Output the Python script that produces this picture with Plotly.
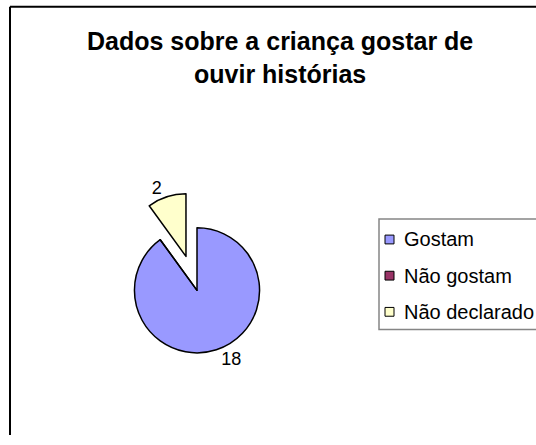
import plotly.graph_objects as go

# ---- data ----
labels = ["Gostam", "Não gostam", "Não declarado"]
values = [18, 0, 2]
colors = ["#9999FF", "#993366", "#FFFFCC"]
pulls = [0, 0, 0.57]
title_lines = ["Dados sobre a criança gostar de", "ouvir histórias"]

W, H = 536, 445
FONT = "Liberation Sans, Arial, sans-serif"

def px(x):
    return x / W

def py(y):
    return 1 - y / H

# pie geometry (pixels)
cx, cy, r = 197, 297, 64
half = r * (1 + max(pulls))

fig = go.Figure()
fig.add_trace(go.Pie(
    labels=labels,
    values=values,
    text=[str(v) if v else "" for v in values],
    textinfo="text",
    textposition="outside",
    textfont=dict(family=FONT, size=18, color="black"),
    marker=dict(colors=colors, line=dict(color="black", width=1.5)),
    pull=pulls,
    sort=False,
    direction="clockwise",
    rotation=0,
    showlegend=False,
    hoverinfo="label+value",
    domain=dict(x=[px(cx - half), px(cx + half)], y=[py(cy + half), py(cy - half)]),
))

shapes = [
    # outer chart border (left and top edges visible in the crop)
    dict(type="line", xref="paper", yref="paper",
         x0=px(10), y0=0, x1=px(10), y1=py(7),
         line=dict(color="black", width=2)),
    dict(type="line", xref="paper", yref="paper",
         x0=px(10), y0=py(7), x1=1, y1=py(7),
         line=dict(color="black", width=2)),
    # legend box
    dict(type="rect", xref="paper", yref="paper",
         x0=px(379), y0=py(337), x1=px(560), y1=py(224),
         line=dict(color="#858585", width=1.5), fillcolor="white"),
]
annotations = [
    dict(xref="paper", yref="paper", x=px(280), y=py(26), xanchor="center", yanchor="top",
         showarrow=False, align="center",
         text="<b>" + "<br>".join(title_lines) + "</b>",
         font=dict(family=FONT, size=25, color="black")),
]
row0, gap = 245, 37
for i, (lab, col) in enumerate(zip(labels, colors)):
    yc = row0 + gap * i
    shapes.append(dict(type="rect", xref="paper", yref="paper",
                       x0=px(385), x1=px(394), y0=py(yc + 4.5), y1=py(yc - 4.5),
                       line=dict(color="black", width=1), fillcolor=col))
    annotations.append(dict(xref="paper", yref="paper", x=px(402), y=py(yc),
                            xanchor="left", yanchor="middle", showarrow=False,
                            text=lab, font=dict(family=FONT, size=20, color="black")))

fig.update_layout(
    width=W, height=H,
    margin=dict(l=0, r=0, t=0, b=0),
    paper_bgcolor="white",
    plot_bgcolor="white",
    shapes=shapes,
    annotations=annotations,
)

fig.write_html("out.html")
